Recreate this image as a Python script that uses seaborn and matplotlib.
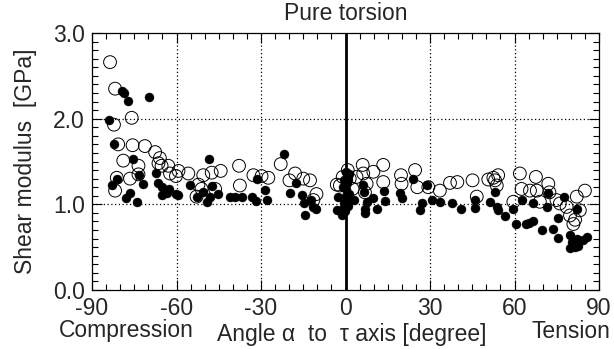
import matplotlib
matplotlib.use("Agg")
import matplotlib.pyplot as plt
import seaborn as sns
import pandas as pd
from matplotlib.ticker import MultipleLocator

# ---- data ----
open_angle = [-83.6, -81.8, -75.9, -82.2, -80.7, -75.6, -71.2, -78.9, -73.5, -67.6,
              -65.9, -66.4, -65.3, -62.9, -62.3, -59.3, -60.2, -55.8, -81.2, -76.5,
              -73.5, -81.8, -52.2, -50.5, -47.5, -44.3, -51.1, -52.9, -46.3, -37.5,
              -37.8, -32.7, -29.8, -27.4, -23.0, -19.9, -17.9, -15.0, -12.6, -10.3,
              -11.4, -3.1, -2.0, -1.0, 1.5, 2.5, 0.8,
              6.1, 6.3, 9.9, 13.4, 13.4, 7.5, 3.9, 6.9, 19.7, 19.9,
              24.7, 25.5, 29.4, 33.5, 37.1, 39.7, 45.1, 46.6, 50.7, 52.5,
              54.2, 53.7, 53.1, 59.6, 61.9, 62.5, 65.5, 67.6, 67.9, 69.0,
              72.0, 72.4, 74.9, 76.1, 78.5, 79.7, 80.9, 82.1, 85.0, 83.2, 81.5]
open_G = [2.66, 2.35, 2.01, 1.93, 1.70, 1.69, 1.68, 1.51, 1.45, 1.61,
          1.54, 1.48, 1.45, 1.45, 1.36, 1.39, 1.33, 1.36, 1.31, 1.30,
          1.35, 1.16, 1.23, 1.34, 1.37, 1.39, 1.18, 1.09, 1.18, 1.22,
          1.45, 1.34, 1.33, 1.31, 1.47, 1.28, 1.36, 1.30, 1.28, 1.12,
          1.05, 1.23, 1.22, 1.32, 1.30, 1.18, 1.40,
          1.46, 1.36, 1.38, 1.46, 1.26, 1.24, 1.32, 1.14, 1.34, 1.24,
          1.40, 1.20, 1.20, 1.16, 1.25, 1.26, 1.28, 1.09, 1.29, 1.31,
          1.34, 1.22, 1.28, 1.03, 1.36, 1.18, 1.16, 1.32, 1.16, 1.03,
          1.24, 1.14, 1.05, 1.01, 0.97, 0.87, 0.77, 1.09, 1.16, 0.93, 0.82]

filled_angle = [-79.2, -78.6, -77.1, -69.8, -83.8, -82.1, -75.3, -81.0, -83.0, -73.2,
                -72.0, -77.9, -76.5, -74.1, -67.4, -66.4, -65.3, -62.5, -65.3, -63.5,
                -60.2, -59.3, -55.2, -52.6, -50.5, -48.5, -47.5, -49.3, -48.1, -45.1,
                -41.0, -39.2, -36.9, -33.3, -31.8, -31.5, -28.6, -27.8, -21.7, -19.7,
                -17.6, -15.3, -14.9, -14.4, -12.4, -11.7, -10.5, -3.1, -1.4, -2.5,
                -1.2, -0.8, -0.5, 0.0, 0.3, 0.6, 1.0, 1.3, -1.0, 0.5, -0.3, 0.8, 1.2, -0.6, 0.2,
                3.0, 6.3, 6.6, 7.5, 6.9, 6.9, 9.9, 11.3, 13.8, 14.0,
                19.3, 19.9, 24.1, 26.4, 27.0, 28.8, 30.6, 33.5, 37.7, 40.9,
                46.0, 46.0, 51.3, 53.1, 53.7, 54.3, 56.6, 59.6, 60.5, 62.5,
                64.1, 65.3, 66.7, 66.7, 69.6, 72.0, 71.7, 73.8, 75.6, 75.6,
                77.6, 79.7, 80.3, 79.7, 81.5, 82.7, 82.1, 84.2, 85.9, 82.1]
filled_G = [2.32, 2.30, 2.21, 2.25, 1.98, 1.70, 1.53, 1.30, 1.23, 1.34,
            1.24, 1.07, 1.13, 1.03, 1.37, 1.25, 1.20, 1.18, 1.11, 1.13,
            1.12, 1.11, 1.23, 1.09, 1.14, 1.53, 1.21, 1.03, 1.09, 1.12,
            1.09, 1.08, 1.09, 1.09, 1.04, 1.29, 1.17, 1.05, 1.59, 1.13,
            1.25, 1.11, 1.02, 0.88, 1.05, 0.97, 0.95, 0.93, 0.91, 1.09,
            0.88, 0.95, 1.02, 1.10, 1.18, 1.25, 1.30, 1.35, 1.20, 1.05, 0.92, 0.98, 1.12, 1.28, 1.38,
            1.05, 1.22, 1.14, 1.03, 0.95, 0.90, 1.07, 0.95, 1.16, 1.04,
            1.13, 1.07, 1.29, 0.93, 1.01, 1.22, 1.05, 1.03, 1.01, 0.95,
            1.05, 0.96, 1.03, 1.14, 0.97, 0.93, 0.86, 0.95, 0.77, 1.05,
            0.77, 0.78, 0.80, 1.01, 0.70, 1.13, 0.97, 0.71, 0.84, 0.61,
            1.09, 0.64, 0.56, 0.49, 0.50, 0.51, 0.60, 0.58, 0.62, 0.95]

x_ticks = [-90, -60, -30, 0, 30, 60, 90]
y_ticks = [0.0, 1.0, 2.0, 3.0]

sns.set_theme(style="white")
plt.rcParams['font.family'] = ['Liberation Sans', 'DejaVu Sans']

FS = 16.5
W, H = 614, 349
fig = plt.figure(figsize=(W / 100, H / 100), dpi=100)
ax = fig.add_axes([92 / W, 1 - 290 / H, (599 - 92) / W, (290 - 33) / H])

df_open = pd.DataFrame({"angle": open_angle, "G": open_G})
df_fill = pd.DataFrame({"angle": filled_angle, "G": filled_G})

# grid and zero line
for gx in [-60, -30, 30, 60]:
    ax.axvline(gx, color="black", linestyle=(0, (1, 2)), linewidth=0.9, zorder=1)
for gy in [1.0, 2.0]:
    ax.axhline(gy, color="black", linestyle=(0, (1, 2)), linewidth=0.9, zorder=1)
ax.axvline(0, color="black", linewidth=2.0, zorder=1)

sns.scatterplot(data=df_open, x="angle", y="G", ax=ax, s=85, marker="o",
                facecolor="none", edgecolor="black", linewidth=0.7, zorder=3)
sns.scatterplot(data=df_fill, x="angle", y="G", ax=ax, s=42, marker="o",
                color="black", edgecolor="black", linewidth=0.3, zorder=4)

ax.set_xlim(-90, 90)
ax.set_ylim(0, 3.0)
ax.set_xticks(x_ticks)
ax.set_xticklabels([str(t) for t in x_ticks])
ax.set_yticks(y_ticks)
ax.set_yticklabels([f"{t:.1f}" for t in y_ticks])
ax.xaxis.set_minor_locator(MultipleLocator(5))
ax.yaxis.set_minor_locator(MultipleLocator(0.1))
ax.tick_params(which="both", direction="in", top=True, right=True, bottom=True, left=True,
               color="black", width=0.8)
ax.tick_params(which="major", length=7, labelsize=FS, pad=5)
ax.tick_params(which="minor", length=4)
for sp in ax.spines.values():
    sp.set_color("black")
    sp.set_linewidth(0.9)

ax.set_xlabel("")
ax.set_ylabel("")

fig.text(26 / W, 1 - 161 / H, "Shear modulus  [GPa]", rotation=90,
         ha="center", va="center", fontsize=FS)
fig.text(346 / W, 1 - 13 / H, "Pure torsion", ha="center", va="center", fontsize=FS)
fig.text(126 / W, 1 - 331 / H, "Compression", ha="center", va="center", fontsize=FS)
fig.text(352 / W, 1 - 334 / H, "Angle α  to  τ axis [degree]", ha="center", va="center", fontsize=FS)
fig.text(610 / W, 1 - 331 / H, "Tension", ha="right", va="center", fontsize=FS)

fig.savefig("out.png", dpi=100)
